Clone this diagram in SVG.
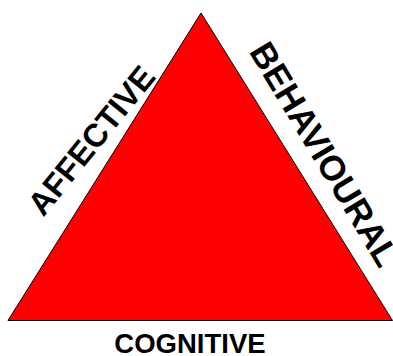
<svg xmlns="http://www.w3.org/2000/svg" width="393" height="356" viewBox="0 0 393 356">
<style>
.lbl{font-family:"Liberation Sans",Arial,sans-serif;font-weight:bold;fill:#000;text-anchor:middle}
</style>
<rect width="393" height="356" fill="#fff"/>
<g id="triangle">
<polygon points="201,13 8,320.5 392.5,320.5" fill="#ff0000" stroke="#000" stroke-width="1"/>
</g>
<g id="affective">
<text class="lbl" font-size="32.5" transform="translate(100,147.5) rotate(-51)">AFFECTIVE</text>
</g>
<g id="behavioural">
<text class="lbl" font-size="35" transform="translate(314,160.5) rotate(59)">BEHAVIOURAL</text>
</g>
<g id="cognitive">
<text class="lbl" font-size="27.5" x="190" y="352.5">COGNITIVE</text>
</g>
<g id="connectors"></g>
</svg>
